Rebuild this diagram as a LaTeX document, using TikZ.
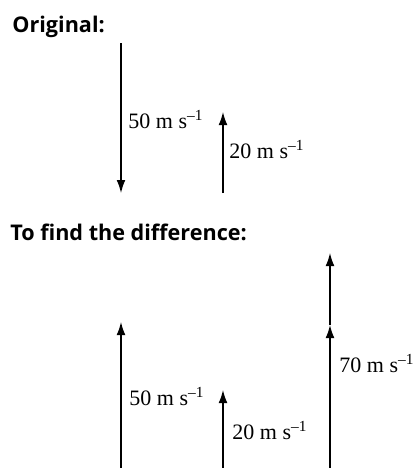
\documentclass[tikz,border=0pt]{standalone}
\usepackage{fontspec}
\setmainfont{Liberation Serif}
\newfontfamily\headfont{Open Sans}
\usetikzlibrary{arrows.meta}
\tikzset{
  vec/.style={line width=0.65pt,-{Latex[length=6.5pt,width=4.4pt]}},
  lab/.style={anchor=base west,inner sep=0pt,font=\fontsize{11}{13}\selectfont},
  head/.style={anchor=base west,inner sep=0pt,font=\headfont\bfseries\fontsize{10.8}{13}\selectfont}
}
\newcommand{\ums}{m s\textsuperscript{–1}}
\begin{document}
\begin{tikzpicture}[x=0.5pt,y=-0.5pt]
\useasboundingbox (0,0) rectangle (417,468);
% headings
\node[head] (h1) at (12,32) {Original:};
\node[head] (h2) at (10,240) {To find the difference:};
% original
\coordinate (a1) at (121,43);
\coordinate (a2) at (121,193);
\coordinate (b1) at (223,193);
\coordinate (b2) at (223,112);
\draw[vec] (a1) -- (a2);
\draw[vec] (b1) -- (b2);
\node[lab] (l1) at (128,128) {50 \ums};
\node[lab] (l2) at (229,158) {20 \ums};
% difference
\coordinate (c1) at (121,470);
\coordinate (c2) at (121,322);
\coordinate (d1) at (223,470);
\coordinate (d2) at (223,390);
\coordinate (e1) at (330,470);
\coordinate (e2) at (330,325);
\coordinate (e3) at (330,253);
\draw[vec] (c1) -- (c2);
\draw[vec] (d1) -- (d2);
\draw[vec] (e1) -- (e2);
\draw[vec] (e2) -- (e3);
\node[lab] (l3) at (129,405) {50 \ums};
\node[lab] (l4) at (232,439) {20 \ums};
\node[lab] (l5) at (339,372) {70 \ums};
\end{tikzpicture}
\end{document}
